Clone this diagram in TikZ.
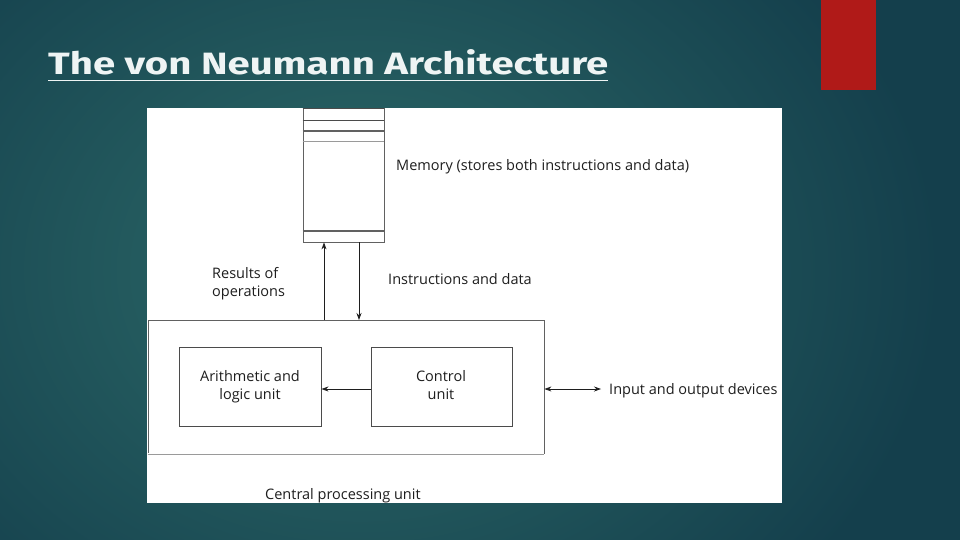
\documentclass[tikz,border=0pt]{standalone}
\usepackage{fontspec}
\setmainfont{Open Sans}
\newfontfamily\titlefont{Fira Sans}
\newfontfamily\diafont{Open Sans}
\usetikzlibrary{arrows.meta}
\definecolor{bgdark}{HTML}{143F4C}
\definecolor{bglight}{HTML}{2D6B69}
\definecolor{redbar}{HTML}{B01A18}
\definecolor{ink}{HTML}{1E1E1E}
\definecolor{lgray}{HTML}{9A9A9A}
\definecolor{titlecol}{HTML}{EEF4F4}
\begin{document}
\begin{tikzpicture}[x=1pt,y=-1pt,
  box/.style={draw=ink!80, line width=0.9pt},
  lbl/.style={font=\diafont\fontsize{14.5}{17}\selectfont, text=ink, inner sep=0pt},
  arr/.style={draw=ink, line width=0.8pt, -{Stealth[length=7pt,width=5pt]}},
  darr/.style={draw=ink, line width=0.8pt, {Stealth[length=7pt,width=5pt]}-{Stealth[length=7pt,width=5pt]}}]
\useasboundingbox (0,0) rectangle (960,540);
% background
\fill[bgdark] (0,0) rectangle (960,540);
\shade[inner color=bglight, outer color=bgdark] (-220,-200) rectangle (940,740);
% red bar
\fill[redbar] (821,0) rectangle (876,90);
% title
\node[anchor=base west, inner sep=0pt, text=titlecol] (title) at (48,75)
  {\resizebox{560pt}{25pt}{\titlefont\bfseries The von Neumann Architecture}};
\draw[titlecol, line width=1.8pt] (48,80.5) -- (608,80.5);
% white panel
\fill[white] (147,108) rectangle (782,503);
% memory
\node[box, draw=ink!70, minimum width=81pt, minimum height=133pt, inner sep=0pt, anchor=north west] (mem) at (302.5,108.5) {};
\draw[ink!80, line width=1pt] (mem.north west) -- (mem.north east);
\draw[ink!80, line width=0.9pt] (302.5,120) -- (383.5,120);
\draw[ink!70, line width=1.2pt] (302.5,131) -- (383.5,131);
\draw[lgray, line width=0.7pt] (302.5,141) -- (383.5,141);
\draw[ink!70, line width=1.2pt] (302.5,231) -- (383.5,231);
\node[lbl, anchor=base west] (memlbl) at (396,171) {Memory (stores both instructions and data)};
% CPU
\node[box, draw=ink!70, minimum width=396pt, minimum height=133pt, inner sep=0pt, anchor=north west] (cpu) at (147.5,320) {};
\draw[white, line width=1.2pt] (cpu.south west) -- (cpu.south east);
\draw[lgray, line width=0.8pt] (cpu.south west) -- (cpu.south east);
\node[box, minimum width=142pt, minimum height=79pt, inner sep=0pt] (alu) at (250,386.5) {};
\node[lbl, align=center, anchor=base] (alut) at (250,399) {Arithmetic and\\[1pt]logic unit};
\node[box, minimum width=141pt, minimum height=79pt, inner sep=0pt] (cu) at (441.5,386.5) {};
\node[lbl, align=center, anchor=base] (cut) at (441,399) {Control\\[1pt]unit};
\node[lbl, anchor=base west] (cpulbl) at (265,499) {Central processing unit};
% connectors
\coordinate (upS) at (cpu.north -| 324,0);
\coordinate (upE) at (mem.south -| 324,0);
\coordinate (dnS) at (mem.south -| 359,0);
\coordinate (dnE) at (cpu.north -| 359,0);
\draw[arr] (upS) -- (upE);
\draw[arr] (dnS) -- (dnE);
\draw[arr] (cu.west |- 0,389) -- (alu.east |- 0,389);
\begin{scope}
\clip (600,370) rectangle (781,410);
\node[lbl, anchor=base west] (io) at (609,394) {Input and output devices};
\end{scope}
\coordinate (ioS) at (cpu.east |- 0,389);
\coordinate (ioE) at (601,389);
\draw[darr] (ioS) -- (ioE);
\node[lbl, anchor=base west, align=left] (res) at (212,296) {Results of\\[1pt]operations};
\node[lbl, anchor=base west] (ins) at (388,284) {Instructions and data};
\end{tikzpicture}
\end{document}
